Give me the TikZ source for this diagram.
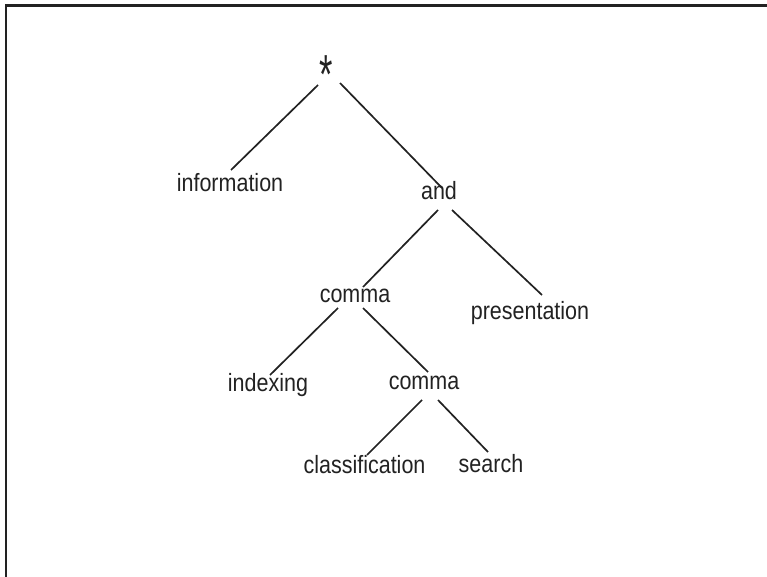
\documentclass[tikz,border=0pt]{standalone}
\usepackage{fontspec}
\usepackage{graphicx}
\setmainfont{Liberation Sans}[FakeStretch=0.86]
\definecolor{ink}{HTML}{222222}
\begin{document}
\begin{tikzpicture}[x=1pt,y=-1pt,
  word/.style={anchor=base, inner sep=0pt, outer sep=0pt, text=ink,
    font=\fontsize{25}{30}\selectfont},
  branch/.style={draw=ink, line width=1.7pt},
  frame/.style={draw=ink, line width=2.2pt}]
\useasboundingbox (0,0) rectangle (767,577);
% open frame: top and left edges only
\draw[frame] (6,577) -- (6,5.5) -- (767,5.5);

% tree nodes, placed by their baselines
\node[word] (root)  at (326,94)    {\scalebox{1.6}[2.2]{*}};
\node[word] (info)  at (230,192)   {information};
\node[word] (and)   at (439,200)   {and};
\node[word] (cma)   at (355,302)   {comma};
\node[word] (pres)  at (530,319)   {presentation};
\node[word] (idx)   at (268,391)   {indexing};
\node[word] (cmb)   at (424,389)   {comma};
\node[word] (cls)   at (364.5,473) {classification};
\node[word] (srch)  at (491,472)   {search};

% branches
\draw[branch] ([shift={(-8,-9)}]root.base)  -- ([shift={(1,-22)}]info.base);
\draw[branch] ([shift={(14,-11)}]root.base) -- ([shift={(3,-12)}]and.base);
\draw[branch] ([shift={(-1,10)}]and.base)   -- ([shift={(8,-15)}]cma.base);
\draw[branch] ([shift={(13,10)}]and.base)   -- ([shift={(12,-24)}]pres.base);
\draw[branch] ([shift={(-17,6)}]cma.base)   -- ([shift={(2,-16)}]idx.base);
\draw[branch] ([shift={(8,6)}]cma.base)     -- ([shift={(4,-17)}]cmb.base);
\draw[branch] ([shift={(-2,11)}]cmb.base)   -- ([shift={(2.5,-18)}]cls.base);
\draw[branch] ([shift={(14,11)}]cmb.base)   -- ([shift={(-3,-20)}]srch.base);
\end{tikzpicture}
\end{document}
